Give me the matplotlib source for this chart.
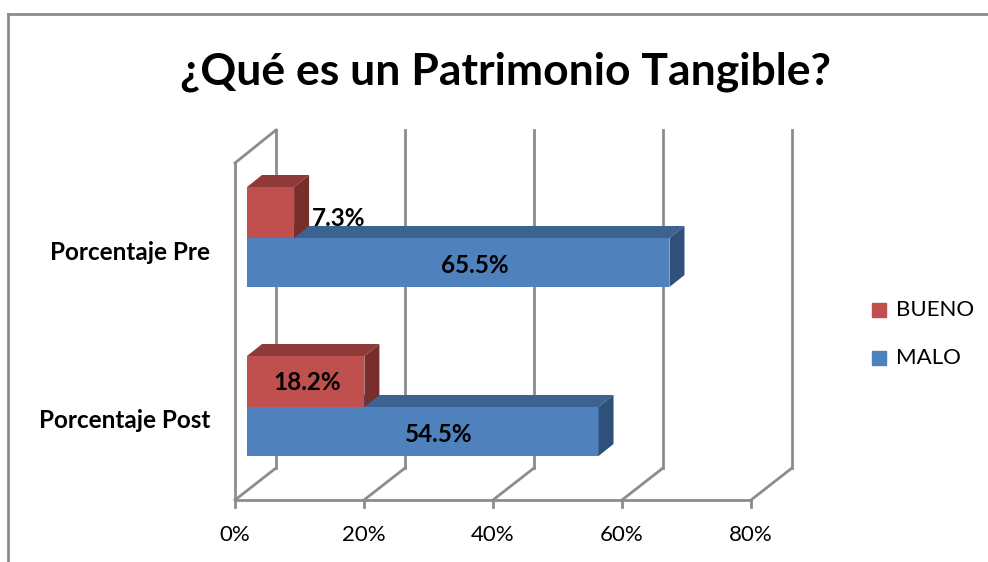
import matplotlib
matplotlib.use('Agg')
import matplotlib.pyplot as plt
from matplotlib.patches import Polygon

plt.rcParams['font.family'] = ['Lato', 'DejaVu Sans']

# datos
categorias = ['Porcentaje Pre', 'Porcentaje Post']
bueno = [7.3, 18.2]
malo = [65.5, 54.5]
ticks = [0, 20, 40, 60, 80]
series = ['BUENO', 'MALO']

# colores tipo Excel 2007
rojo, rojo_top, rojo_lado = '#C0504D', '#8E3A38', '#7A2E2C'
azul, azul_top, azul_lado = '#4F81BD', '#3C6390', '#2F5179'
gris = '#8C8C8C'

W, H = 988, 562
PX = 129 / 20.0          # pixeles por 1 %
X0 = 247                 # pixel del 0 % en el plano de las barras

fig = plt.figure(figsize=(W / 100, H / 100), dpi=100)
ax = fig.add_axes([0, 0, 1, 1])
ax.set_xlim(-X0 / PX, (W - X0) / PX)
ax.set_ylim(H, 0)
ax.axis('off')

# profundidad 3D (en unidades de datos: % en x, pixeles en y)
fx = -12 / PX             # plano frontal respecto a las barras
bx = 29 / PX              # plano del fondo
ddx, ddy = 15 / PX, -12   # fondo de cada barra

piso, piso_fondo, techo, techo_izq = 500, 468, 130, 163

# paredes y rejilla
for t in ticks:
    ax.plot([t + bx, t + bx], [techo, piso_fondo], color=gris, lw=2, zorder=1)
    ax.plot([t + fx, t + bx], [piso, piso_fondo], color=gris, lw=2, zorder=1)
    ax.plot([t + fx, t + fx], [piso, piso + 7], color=gris, lw=2, zorder=1)
    ax.text(t + fx, 535, f'{t}%', ha='center', va='center', fontsize=16, color='black')
ax.plot([ticks[0] + fx, ticks[-1] + fx], [piso, piso], color=gris, lw=2, zorder=1)
ax.plot([fx, fx], [techo_izq, piso], color=gris, lw=2, zorder=1)
ax.plot([fx, bx], [techo_izq, techo], color=gris, lw=2, zorder=1)


def barra3d(y_top, y_bot, w, cara, top, lado):
    ax.barh((y_top + y_bot) / 2, w, height=y_bot - y_top, left=0, color=cara, zorder=3)
    ax.add_patch(Polygon([(0, y_top), (w, y_top), (w + ddx, y_top + ddy), (ddx, y_top + ddy)],
                         closed=True, facecolor=top, edgecolor='none', zorder=3))
    ax.add_patch(Polygon([(w, y_top), (w + ddx, y_top + ddy), (w + ddx, y_bot + ddy), (w, y_bot)],
                         closed=True, facecolor=lado, edgecolor='none', zorder=3))


centros = [238, 407]
alto = 49
for i, yc in enumerate(centros):
    barra3d(yc, yc + alto, malo[i], azul, azul_top, azul_lado)
    barra3d(yc - alto - 2, yc, bueno[i], rojo, rojo_top, rojo_lado)
    ax.text(malo[i] / 2 + 2.5, yc + alto / 2 + 3, f'{malo[i]}%', ha='center', va='center',
            fontsize=17.5, fontweight='bold', zorder=5)
    if bueno[i] > 10:
        ax.text(bueno[i] / 2 + 0.2, yc - alto / 2, f'{bueno[i]}%', ha='center', va='center',
                fontsize=17.5, fontweight='bold', zorder=5)
    else:
        ax.text(bueno[i] + ddx + 0.4, yc - 20, f'{bueno[i]}%', ha='left', va='center',
                fontsize=17.5, fontweight='bold', zorder=5)
    ax.text(-37 / PX, yc + 14, categorias[i], ha='right', va='center',
            fontsize=17.5, fontweight='bold')

# leyenda
for j, (nombre, c) in enumerate(zip(series, [rojo, azul])):
    yl = 310 + 48 * j
    ax.add_patch(plt.Rectangle(((872 - X0) / PX, yl - 7), 14 / PX, 14, color=c, zorder=3))
    ax.text((896 - X0) / PX, yl, nombre, ha='left', va='center', fontsize=16)

# titulo
fig.text(505 / W, 1 - 72 / H, '¿Qué es un Patrimonio Tangible?', ha='center', va='center',
         fontsize=32, fontweight='bold')

# marco del grafico
fig.add_artist(plt.Line2D([8 / W, 1], [1 - 14 / H, 1 - 14 / H], color='#8C8C8C', lw=2))
fig.add_artist(plt.Line2D([8 / W, 8 / W], [0, 1 - 14 / H], color='#8C8C8C', lw=2))

fig.savefig('out.png', dpi=100)
